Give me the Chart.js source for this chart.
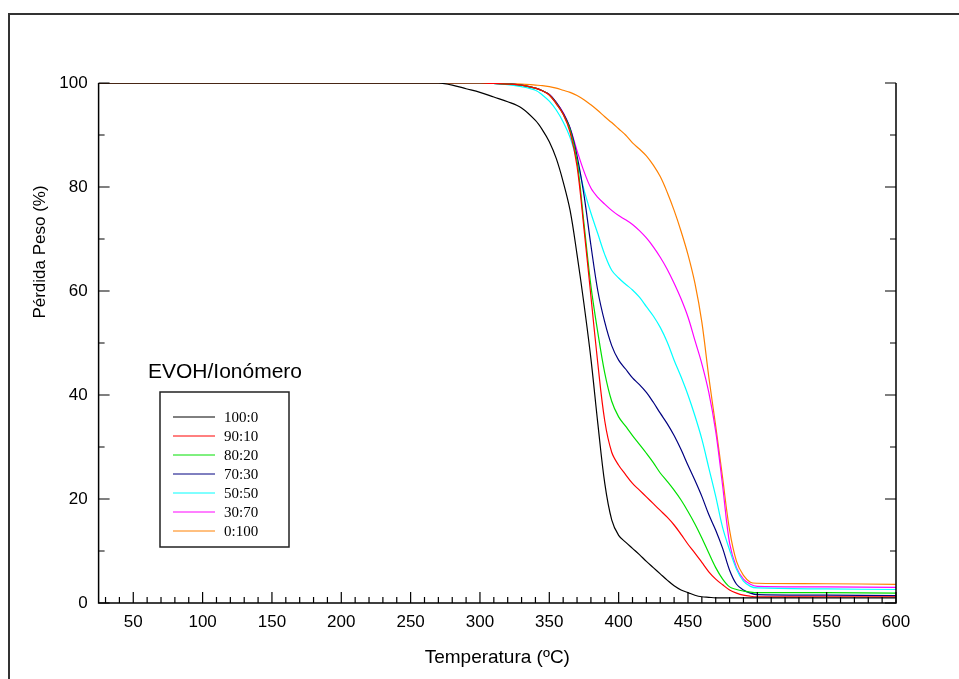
<!DOCTYPE html>
<html>
<head>
<meta charset="utf-8">
<script src="https://cdn.jsdelivr.net/npm/chart.js@4.4.1/dist/chart.umd.min.js"></script>
<style>
  body { margin: 0; background: #fff; overflow: hidden; }
  #wrap { position: absolute; left: 0; top: 0; width: 959px; height: 679px; }
  #frame { position: absolute; left: 8px; top: 13px; width: 1000px; height: 1000px; border: 2px solid #333; }
</style>
</head>
<body>
<div id="frame"></div>
<div id="wrap"><canvas id="tga"></canvas></div>
<script>
// TGA curves, weight (%) vs temperature (ºC)
const temps = [25, 100, 200, 250, 270, 280, 290, 300, 310, 320, 330, 340, 345, 350, 355, 360, 365, 370, 375, 380, 385,
               390, 395, 400, 405, 410, 415, 420, 425, 430, 435, 440, 445, 450, 455, 460, 465, 470, 475, 480, 485,
               490, 495, 500, 550, 600];

const evoh100_0 = [100, 100, 100, 100, 100, 99.6, 98.9, 98.2, 97.3, 96.4, 95.2, 92.8, 91, 88.7, 85.5, 81, 75.5, 67, 57.5, 47, 34.5,
                   23, 16, 13, 11.7, 10.5, 9.3, 8.0, 6.8, 5.6, 4.4, 3.3, 2.5, 2.0, 1.5, 1.2, 1.1, 1.0, 1.0, 1.0, 1.0,
                   1.0, 1.0, 1.0, 1.0, 1.0];
const evoh90_10 = [100, 100, 100, 100, 100, 100, 100, 100, 99.9, 99.8, 99.6, 99.0, 98.5, 97.7, 96, 94, 90.5, 84, 72, 59, 46,
                   35, 29, 26.5, 24.7, 23, 21.7, 20.4, 19.1, 17.8, 16.5, 15, 13.2, 11.3, 9.6, 7.8, 6.0, 4.6, 3.5, 2.5, 1.9,
                   1.5, 1.3, 1.2, 1.2, 1.2];
const evoh80_20 = [100, 100, 100, 100, 100, 100, 100, 100, 99.9, 99.8, 99.6, 99.0, 98.5, 97.7, 96.1, 94, 91, 85, 73, 61, 52,
                   44.2, 38.8, 35.8, 34, 32.2, 30.5, 28.8, 27, 25, 23.4, 21.7, 19.8, 17.6, 15.2, 12.5, 9.6, 6.8, 4.6, 3.1, 2.6,
                   2.3, 2.1, 2.0, 2.0, 1.9];
const evoh70_30 = [100, 100, 100, 100, 100, 100, 100, 100, 99.9, 99.8, 99.6, 99.0, 98.5, 97.8, 96.3, 94.2, 91.3, 86, 78.5, 68.8, 60,
                   54, 49.5, 46.7, 45, 43.3, 42, 40.5, 38.6, 36.5, 34.5, 32.2, 29.5, 26.5, 23.6, 20.5, 17, 14, 10.5, 6.3, 3.6,
                   2.5, 1.9, 1.6, 1.5, 1.4];
const evoh50_50 = [100, 100, 100, 100, 100, 100, 100, 100, 99.9, 99.7, 99.3, 98.6, 97.7, 96.5, 94.8, 92.5, 89.5, 85, 79.5, 75, 71,
                   67, 64, 62.5, 61.3, 60.2, 58.8, 57, 55.2, 53, 50.2, 46.7, 43.5, 40, 36, 31.5, 26, 20.5, 14.5, 10.2, 6.5,
                   4.2, 3.2, 2.9, 2.7, 2.6];
const evoh30_70 = [100, 100, 100, 100, 100, 100, 100, 100, 99.9, 99.8, 99.6, 99.0, 98.5, 97.8, 96.3, 94.3, 91.3, 87, 83, 79.8, 78,
                   76.7, 75.5, 74.5, 73.7, 72.8, 71.6, 70.2, 68.5, 66.5, 64.2, 61.5, 58.5, 55, 50.5, 46, 40.5, 33, 22.5, 11.5, 6.8,
                   4.6, 3.6, 3.2, 3.1, 3.0];
const evoh0_100 = [100, 100, 100, 100, 100, 100, 100, 100, 99.95, 99.9, 99.8, 99.6, 99.5, 99.3, 99, 98.6, 98.2, 97.6, 96.8, 95.8, 94.7,
                   93.5, 92.4, 91.2, 90, 88.5, 87.3, 86, 84.2, 82, 79, 75.5, 71.5, 67, 61.5, 54, 43.5, 34, 24, 14, 8,
                   5.3, 4.0, 3.8, 3.7, 3.6];

const seriesLabels = ['100:0', '90:10', '80:20', '70:30', '50:50', '30:70', '0:100'];
const seriesValues = [evoh100_0, evoh90_10, evoh80_20, evoh70_30, evoh50_50, evoh30_70, evoh0_100];
const seriesColors = ['#000000', '#ff0000', '#00e000', '#000080', '#00ffff', '#ff00ff', '#ff8000'];

const xTicks = [50, 100, 150, 200, 250, 300, 350, 400, 450, 500, 550, 600];
const yTicks = [0, 20, 40, 60, 80, 100];

const FONT = '"Liberation Sans", Arial, sans-serif';

// axis lines with inward ticks (major + minor)
const axesPlugin = {
    id: 'axesFrame',
    afterDraw(chart) {
        const { ctx, chartArea: a, scales: { x, y } } = chart;
        ctx.save();
        ctx.strokeStyle = '#000';
        ctx.lineWidth = 1.5;
        ctx.beginPath();
        ctx.moveTo(a.left, a.top);
        ctx.lineTo(a.left, a.bottom);
        ctx.lineTo(a.right, a.bottom);
        ctx.lineTo(a.right, a.top);
        ctx.stroke();

        ctx.lineWidth = 1.2;
        ctx.beginPath();
        for (let v = 30; v <= 600; v += 10) {
            const px = x.getPixelForValue(v);
            const len = v % 50 === 0 ? 11 : 6;
            ctx.moveTo(px, a.bottom);
            ctx.lineTo(px, a.bottom - len);
        }
        for (let v = 0; v <= 100; v += 10) {
            const py = y.getPixelForValue(v);
            const len = v % 20 === 0 ? 11 : 6;
            ctx.moveTo(a.left, py);
            ctx.lineTo(a.left + len, py);
            ctx.moveTo(a.right, py);
            ctx.lineTo(a.right - len, py);
        }
        ctx.stroke();

        // y axis title
        ctx.fillStyle = '#000';
        ctx.font = '17px ' + FONT;
        ctx.textAlign = 'center';
        ctx.textBaseline = 'middle';
        ctx.translate(40, 252);
        ctx.rotate(-Math.PI / 2);
        ctx.fillText('Pérdida Peso (%)', 0, 0);
        ctx.restore();
    }
};

// boxed legend inside the plot
const legendPlugin = {
    id: 'boxLegend',
    afterDraw(chart) {
        const ctx = chart.ctx;
        ctx.save();
        ctx.fillStyle = '#000';
        ctx.font = '21px ' + FONT;
        ctx.textAlign = 'center';
        ctx.textBaseline = 'middle';
        ctx.fillText('EVOH/Ionómero', 225, 372);

        ctx.strokeStyle = '#222';
        ctx.lineWidth = 1.5;
        ctx.strokeRect(160, 392, 129, 155);

        ctx.font = '15px "Liberation Serif", "Times New Roman", serif';
        ctx.textAlign = 'left';
        chart.data.datasets.forEach((ds, i) => {
            const yy = 417 + i * 19;
            ctx.strokeStyle = ds.borderColor;
            ctx.lineWidth = 1;
            ctx.beginPath();
            ctx.moveTo(173, yy);
            ctx.lineTo(215, yy);
            ctx.stroke();
            ctx.fillStyle = '#000';
            ctx.fillText(ds.label, 224, yy + 1);
        });
        ctx.restore();
    }
};

new Chart(document.getElementById('tga'), {
    type: 'line',
    data: {
        datasets: seriesLabels.map((label, i) => ({
            label: label,
            data: temps.map((t, j) => ({ x: t, y: seriesValues[i][j] })),
            borderColor: seriesColors[i],
            borderWidth: 1.2,
            pointRadius: 0,
            fill: false,
            tension: 0.35
        }))
    },
    options: {
        responsive: true,
        maintainAspectRatio: false,
        animation: false,
        layout: { padding: { left: 0, top: 83, right: 63, bottom: 0 } },
        plugins: {
            legend: { display: false },
            tooltip: { enabled: false }
        },
        scales: {
            x: {
                type: 'linear',
                min: 25,
                max: 600,
                afterBuildTicks: axis => { axis.ticks = xTicks.map(v => ({ value: v })); },
                afterFit: scale => { scale.height = 76; },
                grid: { display: false, drawTicks: false },
                border: { display: false },
                ticks: { color: '#000', font: { family: FONT, size: 17 }, padding: 9, maxRotation: 0, autoSkip: false },
                title: { display: true, text: 'Temperatura (ºC)', color: '#000', font: { family: FONT, size: 19 }, padding: { top: 0, bottom: 10 } }
            },
            y: {
                min: 0,
                max: 100,
                afterBuildTicks: axis => { axis.ticks = yTicks.map(v => ({ value: v })); },
                afterFit: scale => { scale.width = 98.6; },
                grid: { display: false, drawTicks: false },
                border: { display: false },
                ticks: { color: '#000', font: { family: FONT, size: 17 }, padding: 11 }
            }
        }
    },
    plugins: [axesPlugin, legendPlugin]
});
</script>
</body>
</html>
